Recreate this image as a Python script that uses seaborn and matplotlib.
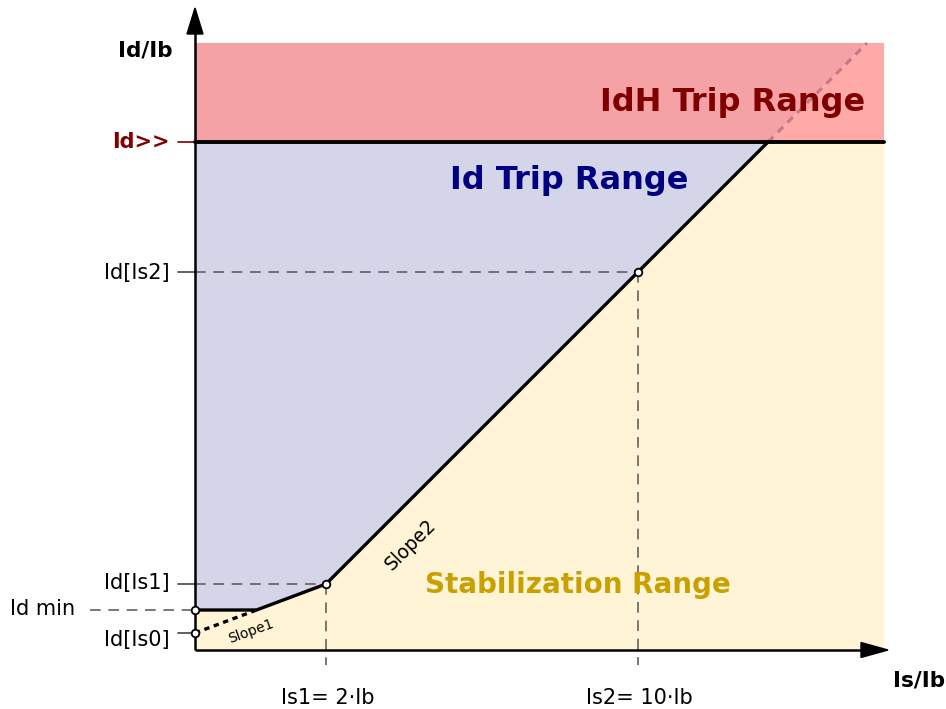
import matplotlib
matplotlib.use("Agg")
import matplotlib.pyplot as plt
from matplotlib.patches import Polygon, FancyArrow
import seaborn as sns

sns.set_theme(style="white")
plt.rcParams["font.family"] = ["DejaVu Sans"]
plt.rcParams["text.color"] = "black"

# Characteristic breakpoints (schematic units: Is/Ib horizontally, Id/Ib vertically)
is_flat_end = 6.15      # end of the Id min plateau
is1 = 13.1              # Is1 = 2·Ib
is2 = 44.3              # Is2 = 10·Ib
is_hi = 57.3            # slope2 meets Id>>
x_max = 68.9
y_max = 60.7

id_is0 = 1.7
id_min = 4.0
id_is1 = 6.6
id_is2 = 37.8
id_hi = 50.8

# Solid operating characteristic
char_x = [0.0, is_flat_end, is1, is2, is_hi]
char_y = [id_min, id_min, id_is1, id_is2, id_hi]
# Id>> threshold across the whole range
hi_x = [0.0, x_max]
hi_y = [id_hi, id_hi]
# Slope1 extended back to the Id axis
slope1_x = [0.0, is_flat_end]
slope1_y = [id_is0, id_min]
# Slope2 continued into the IdH region
slope2_ext_x = [is_hi, 67.2]
slope2_ext_y = [id_hi, y_max]
# Marked points on the characteristic
pts_x = [0.0, 0.0, is1, is2]
pts_y = [id_min, id_is0, id_is1, id_is2]

x_labels = ["Is1= 2·Ib", "Is2= 10·Ib"]
y_labels = ["Id>>", "Id[Is2]", "Id[Is1]", "Id min", "Id[Is0]"]

fig = plt.figure(figsize=(9.46, 7.09), dpi=100)
ax = fig.add_axes([0, 0, 1, 1])
ax.set_xlim(-19.5, 75.1)
ax.set_ylim(-5.9, 65.0)
ax.axis("off")

# Regions
yellow = "#fff4d6"
purple = "#d5d5e9"
ax.add_patch(Polygon([(0, 0), (x_max, 0), (x_max, id_hi), (is_hi, id_hi), (is2, id_is2),
                      (is1, id_is1), (is_flat_end, id_min), (0, id_min)],
                     closed=True, fc=yellow, ec="none", zorder=1))
ax.add_patch(Polygon([(0, id_min), (is_flat_end, id_min), (is1, id_is1), (is2, id_is2),
                      (is_hi, id_hi), (0, id_hi)],
                     closed=True, fc=purple, ec="none", zorder=1))
ax.add_patch(Polygon([(0, id_hi), (is_hi, id_hi), (slope2_ext_x[1], y_max), (0, y_max)],
                     closed=True, fc="#f5a2a6", ec="none", zorder=1))
ax.add_patch(Polygon([(is_hi, id_hi), (x_max, id_hi), (x_max, y_max), (slope2_ext_x[1], y_max)],
                     closed=True, fc="#ffaaa8", ec="none", zorder=1))

# Guide lines
guide = dict(color="#555555", lw=1.1, dashes=(7, 5), zorder=2)
ax.plot([0, is2], [id_is2, id_is2], **guide)
ax.plot([0, is1], [id_is1, id_is1], **guide)
ax.plot([-10.5, 0], [id_min, id_min], **guide)
ax.plot([is1, is1], [id_is1, -1.5], **guide)
ax.plot([is2, is2], [id_is2, -1.5], **guide)
for yv in (id_is2, id_is1, id_is0):
    ax.plot([-1.7, 0], [yv, yv], color="#444444", lw=1.2, zorder=2)
ax.plot([-1.7, 0], [id_hi, id_hi], color="#800000", lw=1.2, zorder=2)

# Characteristic lines
sns.lineplot(x=slope2_ext_x, y=slope2_ext_y, ax=ax, color="#c47a86", lw=2.2,
             sort=False, estimator=None, zorder=3)
ax.lines[-1].set_dashes((2.5, 2.0))
sns.lineplot(x=slope1_x, y=slope1_y, ax=ax, color="black", lw=2.4,
             sort=False, estimator=None, zorder=4)
ax.lines[-1].set_dashes((1.6, 1.4))
sns.lineplot(x=hi_x, y=hi_y, ax=ax, color="black", lw=2.8,
             sort=False, estimator=None, zorder=4)
sns.lineplot(x=char_x, y=char_y, ax=ax, color="black", lw=2.4,
             sort=False, estimator=None, zorder=4)
ax.lines[-1].set_solid_joinstyle("miter")

# Axes with arrow heads
ax.plot([0, 0], [0, 62], color="black", lw=1.8, zorder=5, solid_capstyle="butt")
ax.plot([0, 67], [0, 0], color="black", lw=1.8, zorder=5, solid_capstyle="butt")
ax.add_patch(FancyArrow(0, 61.6, 0, 2.6, width=0, head_width=1.6, head_length=2.6,
                        length_includes_head=True, color="black", zorder=6))
ax.add_patch(FancyArrow(66.6, 0, 2.7, 0, width=0, head_width=1.5, head_length=2.7,
                        length_includes_head=True, color="black", zorder=6))

sns.scatterplot(x=pts_x, y=pts_y, ax=ax, s=30, color="white", edgecolor="black",
                linewidth=1.3, zorder=7, legend=False)

# Axis titles
ax.text(-5.0, 60.0, "Id/Ib", fontsize=15.5, fontweight="bold", ha="center", va="center")
ax.text(72.4, -3.1, "Is/Ib", fontsize=15.5, fontweight="bold", ha="center", va="center")

# Value labels (label height, label right edge)
ylab_pos = [(id_hi - 0.05, -2.5), (id_is2 - 0.15, -2.5), (id_is1 + 0.1, -2.5),
            (id_min + 0.1, -12.0), (id_is0 - 0.7, -2.5)]
for lab, (yv, xv) in zip(y_labels, ylab_pos):
    if lab == "Id>>":
        ax.text(xv, yv, lab, fontsize=15, fontweight="bold", color="#800000",
                ha="right", va="center")
    else:
        ax.text(xv, yv, lab, fontsize=15, ha="right", va="center")
for lab, xv in zip(x_labels, [is1, is2]):
    ax.text(xv + 0.15, -4.8, lab, fontsize=15, ha="center", va="center")

# Region labels
ax.text(53.8, 54.7, "IdH Trip Range", fontsize=23, fontweight="bold", color="#800000",
        ha="center", va="center")
ax.text(37.4, 46.9, "Id Trip Range", fontsize=23, fontweight="bold", color="#000080",
        ha="center", va="center")
ax.text(38.3, 6.5, "Stabilization Range", fontsize=20, fontweight="bold", color="#c8a000",
        ha="center", va="center")
ax.text(21.6, 10.5, "Slope2", fontsize=13.5, rotation=45, ha="center", va="center")
ax.text(5.6, 1.9, "Slope1", fontsize=10, rotation=20, ha="center", va="center")

fig.savefig("out.png", dpi=100)
